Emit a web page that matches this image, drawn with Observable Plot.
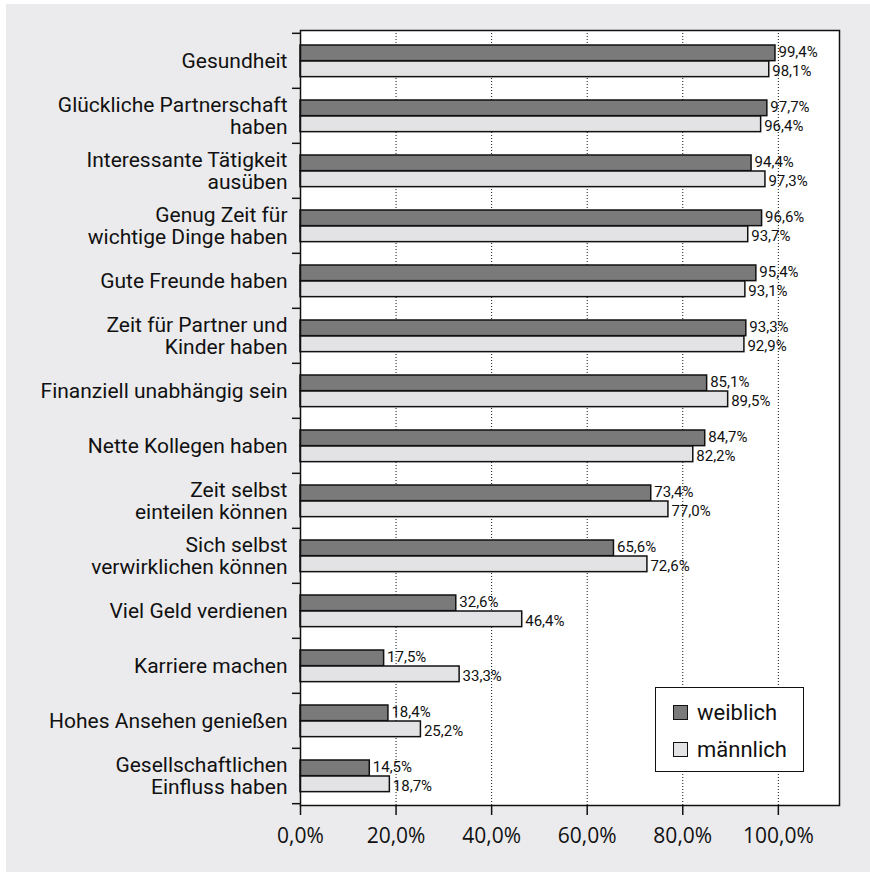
<!DOCTYPE html>
<html>
<head>
<meta charset="utf-8">
<script src="https://cdn.jsdelivr.net/npm/d3@7"></script>
<script src="https://cdn.jsdelivr.net/npm/@observablehq/plot@0.6"></script>
<style>
  html, body { margin: 0; padding: 0; background: #ffffff; }
  #wrap { position: relative; width: 870px; height: 872px; overflow: hidden; }
  #bg { position: absolute; left: 6px; top: 4px; right: 0; bottom: 0; background: #ebebed; }
  #chart { position: absolute; left: 0; top: 0; }
  #legend { position: absolute; left: 655px; top: 687px; width: 147px; height: 83px;
    background: #ffffff; border: 1.5px solid #111; font-family: Roboto, "Open Sans", sans-serif;
    font-size: 22px; color: #111; }
  .item { position: absolute; left: 17px; display: flex; align-items: center; }
  .sw { width: 13px; height: 13px; border: 1.5px solid #111; margin-right: 9px; }
</style>
</head>
<body>
<div id="wrap">
  <div id="bg"></div>
  <div id="chart"></div>
  <div id="legend"></div>
</div>
<script>
const categories = [
  "Gesundheit",
  "Glückliche Partnerschaft haben",
  "Interessante Tätigkeit ausüben",
  "Genug Zeit für wichtige Dinge haben",
  "Gute Freunde haben",
  "Zeit für Partner und Kinder haben",
  "Finanziell unabhängig sein",
  "Nette Kollegen haben",
  "Zeit selbst einteilen können",
  "Sich selbst verwirklichen können",
  "Viel Geld verdienen",
  "Karriere machen",
  "Hohes Ansehen genießen",
  "Gesellschaftlichen Einfluss haben"
];
const categoryLabels = [
  "Gesundheit",
  "Glückliche Partnerschaft\nhaben",
  "Interessante Tätigkeit\nausüben",
  "Genug Zeit für\nwichtige Dinge haben",
  "Gute Freunde haben",
  "Zeit für Partner und\nKinder haben",
  "Finanziell unabhängig sein",
  "Nette Kollegen haben",
  "Zeit selbst\neinteilen können",
  "Sich selbst\nverwirklichen können",
  "Viel Geld verdienen",
  "Karriere machen",
  "Hohes Ansehen genießen",
  "Gesellschaftlichen\nEinfluss haben"
];
const weiblich = [99.4, 97.7, 94.4, 96.6, 95.4, 93.3, 85.1, 84.7, 73.4, 65.6, 32.6, 17.5, 18.4, 14.5];
const maennlich = [98.1, 96.4, 97.3, 93.7, 93.1, 92.9, 89.5, 82.2, 77.0, 72.6, 46.4, 33.3, 25.2, 18.7];
const series = ["weiblich", "männlich"];
const seriesColors = ["#7a7a7a", "#e3e3e5"];
const xTicks = [0, 20, 40, 60, 80, 100];
const xMax = 112.8;

const data = categories.flatMap((c, i) => [
  {category: c, sex: series[0], value: weiblich[i]},
  {category: c, sex: series[1], value: maennlich[i]}
]);
const labelOf = new Map(categories.map((c, i) => [c, categoryLabels[i]]));
const fmt = v => v.toFixed(1).replace(".", ",") + "%";

const W = 870, H = 872, mTop = 30, mBottom = 67, mLeft = 300, mRight = 31;
const bw = (H - mTop - mBottom) / categories.length;
const barH = 16, padTop = 12;

const font = "Roboto, 'Open Sans', sans-serif";

const plot = Plot.plot({
  width: W, height: H,
  marginTop: mTop, marginBottom: mBottom, marginLeft: mLeft, marginRight: mRight,
  style: {background: "transparent", fontFamily: font, color: "#111"},
  x: {domain: [0, xMax], label: null},
  y: {domain: categories, padding: 0, label: null},
  color: {domain: series, range: seriesColors},
  marks: [
    Plot.frame({fill: "white", stroke: "none"}),
    Plot.gridX(xTicks.filter(d => d > 0), {stroke: "#111", strokeOpacity: 1, strokeWidth: 1, strokeDasharray: "1,2"}),
    Plot.barX(data.filter(d => d.sex === series[0]), {
      x: "value", y: "category", fill: "sex", stroke: "#111", strokeWidth: 1.5,
      insetTop: padTop, insetBottom: bw - padTop - barH
    }),
    Plot.barX(data.filter(d => d.sex === series[1]), {
      x: "value", y: "category", fill: "sex", stroke: "#111", strokeWidth: 1.5,
      insetTop: padTop + barH, insetBottom: bw - padTop - 2 * barH
    }),
    Plot.text(data.filter(d => d.sex === series[0]), {
      x: "value", y: "category", text: d => fmt(d.value), textAnchor: "start",
      dx: 3, dy: padTop + barH / 2 - bw / 2 - 1.2, fontSize: 15, fill: "#111"
    }),
    Plot.text(data.filter(d => d.sex === series[1]), {
      x: "value", y: "category", text: d => fmt(d.value), textAnchor: "start",
      dx: 3, dy: padTop + 1.5 * barH - bw / 2 + 1.5, fontSize: 15, fill: "#111"
    }),
    Plot.frame({stroke: "#111", strokeWidth: 1.5}),
    Plot.ruleY(categories, {y: d => d, x1: 0, x2: 0, insetLeft: -8, dy: -bw / 2, stroke: "#111", strokeWidth: 1.5}),
    Plot.ruleY(categories.slice(-1), {y: d => d, x1: 0, x2: 0, insetLeft: -8, dy: bw / 2, stroke: "#111", strokeWidth: 1.5}),
    Plot.axisX({ticks: xTicks, tickFormat: fmt, tickSize: 10, tickPadding: 13, fontSize: 21, fontFamily: "'Open Sans', Roboto, sans-serif", label: null, strokeWidth: 1.5}),
    Plot.axisY({tickSize: 0, tickPadding: 13, fontSize: 21, lineHeight: 1.05, label: null, tickFormat: d => labelOf.get(d)})
  ]
});
document.getElementById("chart").appendChild(plot);

const legend = document.getElementById("legend");
series.forEach((s, i) => {
  const item = document.createElement("div");
  item.className = "item";
  item.style.top = (i === 0 ? 12 : 49) + "px";
  const sw = document.createElement("div");
  sw.className = "sw";
  sw.style.background = seriesColors[i];
  const t = document.createElement("span");
  t.textContent = s;
  item.appendChild(sw);
  item.appendChild(t);
  legend.appendChild(item);
});
</script>
</body>
</html>
